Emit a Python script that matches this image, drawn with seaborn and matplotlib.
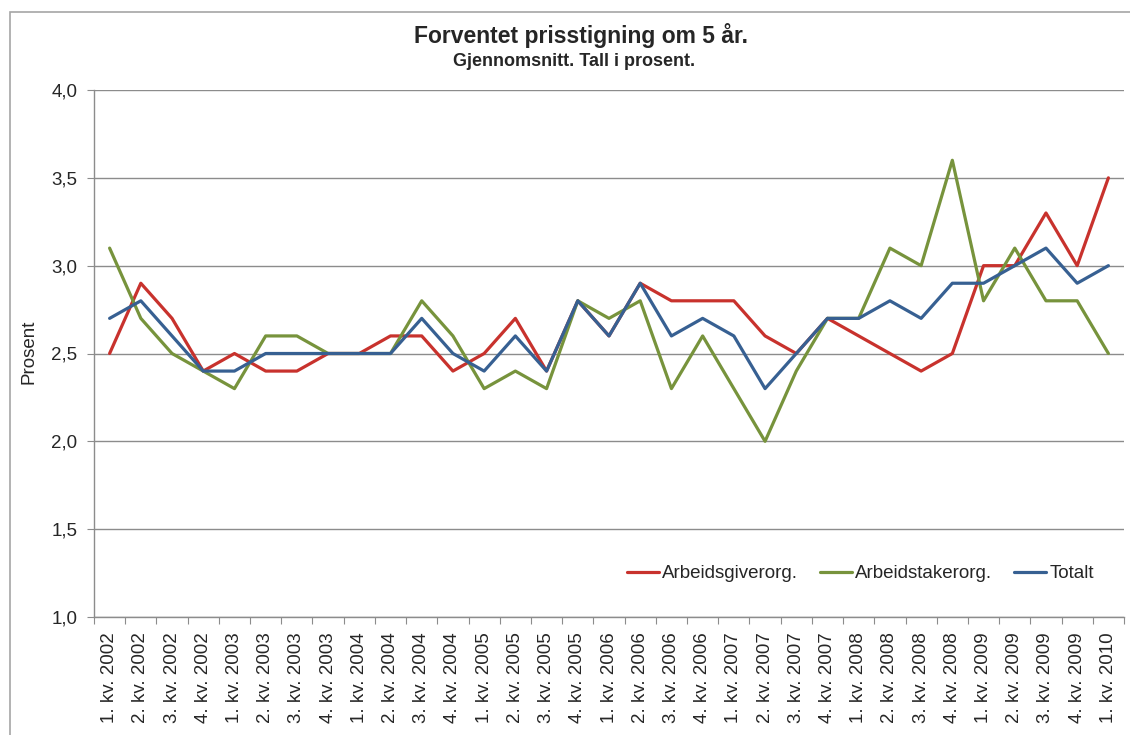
import numpy as np
import pandas as pd
import matplotlib
matplotlib.use('Agg')
import matplotlib.pyplot as plt
import seaborn as sns

quarters = [f'{q}. kv. {y}' for y in range(2002, 2010) for q in range(1, 5)] + ['1. kv. 2010']

arbeidsgiver = [2.5, 2.9, 2.7, 2.4, 2.5, 2.4, 2.4, 2.5, 2.5, 2.6, 2.6, 2.4,
                2.5, 2.7, 2.4, 2.8, 2.6, 2.9, 2.8, 2.8, 2.8, 2.6, 2.5, 2.7,
                2.6, 2.5, 2.4, 2.5, 3.0, 3.0, 3.3, 3.0, 3.5]
arbeidstaker = [3.1, 2.7, 2.5, 2.4, 2.3, 2.6, 2.6, 2.5, 2.5, 2.5, 2.8, 2.6,
                2.3, 2.4, 2.3, 2.8, 2.7, 2.8, 2.3, 2.6, 2.3, 2.0, 2.4, 2.7,
                2.7, 3.1, 3.0, 3.6, 2.8, 3.1, 2.8, 2.8, 2.5]
totalt = [2.7, 2.8, 2.6, 2.4, 2.4, 2.5, 2.5, 2.5, 2.5, 2.5, 2.7, 2.5,
          2.4, 2.6, 2.4, 2.8, 2.6, 2.9, 2.6, 2.7, 2.6, 2.3, 2.5, 2.7,
          2.7, 2.8, 2.7, 2.9, 2.9, 3.0, 3.1, 2.9, 3.0]

series_names = ['Arbeidsgiverorg.', 'Arbeidstakerorg.', 'Totalt']
colors = ['#C8322D', '#77933C', '#376092']

pos = np.arange(len(quarters))
df = pd.DataFrame({
    'pos': np.tile(pos, 3),
    'verdi': arbeidsgiver + arbeidstaker + totalt,
    'serie': np.repeat(series_names, len(quarters)),
})

sns.set_style('white')
plt.rcParams['font.family'] = ['Liberation Sans', 'DejaVu Sans']
fs = 13.5

fig = plt.figure(figsize=(11.3, 7.35), dpi=100)
ax = fig.add_axes([94/1130, 1 - 617/735, 1030/1130, 527/735])

sns.lineplot(data=df, x='pos', y='verdi', hue='serie', palette=colors,
             linewidth=2.3, ax=ax, legend=True)

ax.set_xlim(-0.5, len(quarters) - 0.5)
ax.set_ylim(1.0, 4.0)
yt = np.arange(1.0, 4.01, 0.5)
ax.set_yticks(yt)
ax.set_yticklabels([f'{v:.1f}'.replace('.', ',') for v in yt], fontsize=fs)
ax.yaxis.grid(True, color='#8c8c8c', linewidth=1)
ax.set_axisbelow(True)

# tick marks between categories, labels centred on each category
ax.set_xticks(np.arange(-0.5, len(quarters), 1.0))
ax.set_xticklabels([])
ax.set_xticks(pos, minor=True)
ax.set_xticklabels(quarters, minor=True, rotation=90, fontsize=fs)
ax.tick_params(axis='x', which='major', length=5, color='#8c8c8c', direction='out', bottom=True)
ax.tick_params(axis='x', which='minor', length=0, pad=11)
ax.tick_params(axis='y', length=5, color='#8c8c8c', direction='out', left=True, pad=7)

for s in ['top', 'right']:
    ax.spines[s].set_visible(False)
for s in ['left', 'bottom']:
    ax.spines[s].set_color('#8c8c8c')
    ax.spines[s].set_linewidth(1)

ax.set_xlabel('')
ax.set_ylabel('')
fig.text(29/1130, 1 - 352/735, 'Prosent', rotation=90, ha='center', va='center', fontsize=fs)

leg = ax.legend(loc='center', bbox_to_anchor=(0.744, 0.082), ncol=3, frameon=False,
                fontsize=fs, handlelength=1.7, handletextpad=0.15, columnspacing=1.2)
for line in leg.get_lines():
    line.set_linewidth(2.3)

fig.text(581/1130, 1 - 35/735, 'Forventet prisstigning om 5 år.', ha='center', va='center',
         fontsize=16.5, fontweight='bold')
fig.text(574/1130, 1 - 62/735, 'Gjennomsnitt. Tall i prosent.', ha='center', va='center',
         fontsize=13, fontweight='bold')

border = plt.Rectangle((10/1130, -0.1), 1.2, 1 - 12/735 + 0.1, transform=fig.transFigure,
                       fill=False, edgecolor='#a6a6a6', linewidth=1.2)
fig.patches.append(border)

fig.savefig('out.png', dpi=100)
